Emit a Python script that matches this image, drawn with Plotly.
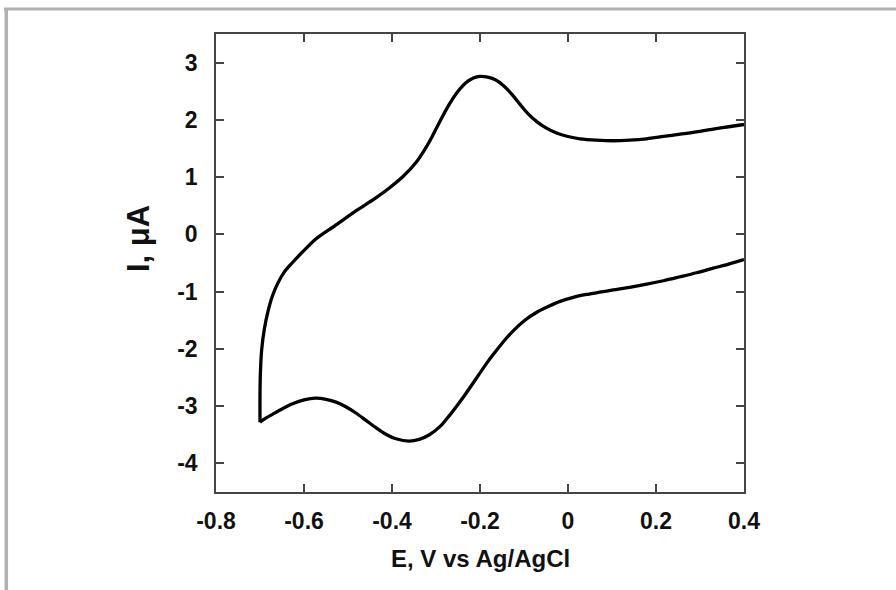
import plotly.graph_objects as go

# Forward sweep (upper branch): potential E (V) and current I (uA)
fwd_E = [-0.700, -0.700, -0.699, -0.696, -0.690, -0.682, -0.672, -0.660, -0.645, -0.627,
         -0.605, -0.573, -0.530, -0.482, -0.440, -0.406, -0.375, -0.345, -0.325, -0.308,
         -0.290, -0.270, -0.250, -0.232, -0.215, -0.200, -0.185, -0.165, -0.147, -0.128,
         -0.109, -0.090, -0.071, -0.050, -0.026, 0.000, 0.027, 0.065, 0.103, 0.140,
         0.179, 0.217, 0.255, 0.292, 0.330, 0.365, 0.400]
fwd_I = [-3.28, -2.80, -2.40, -2.00, -1.65, -1.35, -1.08, -0.86, -0.66, -0.50,
         -0.32, -0.08, 0.15, 0.41, 0.62, 0.81, 1.01, 1.26, 1.49, 1.72,
         1.99, 2.27, 2.50, 2.65, 2.73, 2.76, 2.75, 2.70, 2.60, 2.45,
         2.27, 2.10, 1.97, 1.86, 1.77, 1.71, 1.67, 1.645, 1.635, 1.645,
         1.67, 1.71, 1.75, 1.79, 1.84, 1.88, 1.92]

# Reverse sweep (lower branch)
rev_E = [0.400, 0.365, 0.330, 0.292, 0.255, 0.217, 0.179, 0.140, 0.103, 0.072,
         0.042, 0.012, -0.018, -0.045, -0.071, -0.098, -0.124, -0.143, -0.162, -0.181,
         -0.200, -0.216, -0.232, -0.251, -0.270, -0.290, -0.315, -0.338, -0.361, -0.391,
         -0.414, -0.436, -0.459, -0.482, -0.505, -0.527, -0.550, -0.573, -0.600, -0.626,
         -0.650, -0.671, -0.687, -0.700]
rev_I = [-0.44, -0.52, -0.59, -0.67, -0.74, -0.81, -0.87, -0.925, -0.97, -1.01,
         -1.05, -1.10, -1.17, -1.26, -1.36, -1.50, -1.68, -1.84, -2.02, -2.21,
         -2.42, -2.60, -2.78, -2.98, -3.17, -3.35, -3.50, -3.58, -3.61, -3.57,
         -3.49, -3.38, -3.25, -3.12, -3.01, -2.93, -2.88, -2.86, -2.89, -2.96,
         -3.05, -3.14, -3.21, -3.28]

x_ticks = [-0.8, -0.6, -0.4, -0.2, 0, 0.2, 0.4]
x_tick_text = ["-0.8", "-0.6", "-0.4", "-0.2", "0", "0.2", "0.4"]
y_ticks = [-4, -3, -2, -1, 0, 1, 2, 3]
y_tick_text = ["-4", "-3", "-2", "-1", "0", "1", "2", "3"]

W, H = 896, 590
ML, MR, MT, MB = 216, 152, 34, 98
PW, PH = W - ML - MR, H - MT - MB

def px(x):
    return (x - ML) / PW

def py(y):
    return (H - MB - y) / PH

FONT = "Arial, Liberation Sans, Helvetica, sans-serif"
LINE = dict(color="black", width=3.3, shape="spline", smoothing=0.8)

fig = go.Figure()
fig.add_trace(go.Scatter(x=fwd_E, y=fwd_I, mode="lines", line=LINE, showlegend=False))
fig.add_trace(go.Scatter(x=rev_E, y=rev_I, mode="lines", line=LINE, showlegend=False))

axis_common = dict(
    showline=True, linecolor="#444444", linewidth=1.6, mirror="ticks",
    ticks="inside", ticklen=8, tickwidth=1.6, tickcolor="#444444",
    showgrid=False, zeroline=False,
    tickfont=dict(family=FONT, size=23, color="#111111", weight="bold"),
)

fig.update_xaxes(range=[-0.8, 0.4], tickvals=x_ticks, ticktext=x_tick_text,
                 ticklabelstandoff=8, **axis_common)
fig.update_yaxes(range=[-4.5, 3.5], tickvals=y_ticks, ticktext=y_tick_text,
                 ticklabelstandoff=12, **axis_common)

fig.add_annotation(text="E, V vs Ag/AgCl", xref="paper", yref="paper",
                   x=px(480), y=py(558), showarrow=False,
                   xanchor="center", yanchor="middle",
                   font=dict(family=FONT, size=24, color="#111111", weight="bold"))
fig.add_annotation(text="I, μA", xref="paper", yref="paper",
                   x=px(138), y=py(239), showarrow=False, textangle=-90,
                   xanchor="center", yanchor="middle",
                   font=dict(family=FONT, size=31, color="#111111", weight="bold"))

# Gray frame (top and left edges)
fig.add_shape(type="line", xref="paper", yref="paper",
              x0=px(4), x1=px(896), y0=py(9), y1=py(9),
              line=dict(color="#b0b0b0", width=3))
fig.add_shape(type="line", xref="paper", yref="paper",
              x0=px(6.3), x1=px(6.3), y0=py(8), y1=py(590),
              line=dict(color="#b0b0b0", width=3.5))

fig.update_layout(
    width=W, height=H,
    margin=dict(l=ML, r=MR, t=MT, b=MB),
    paper_bgcolor="white", plot_bgcolor="white",
)

fig.write_html("out.html")
